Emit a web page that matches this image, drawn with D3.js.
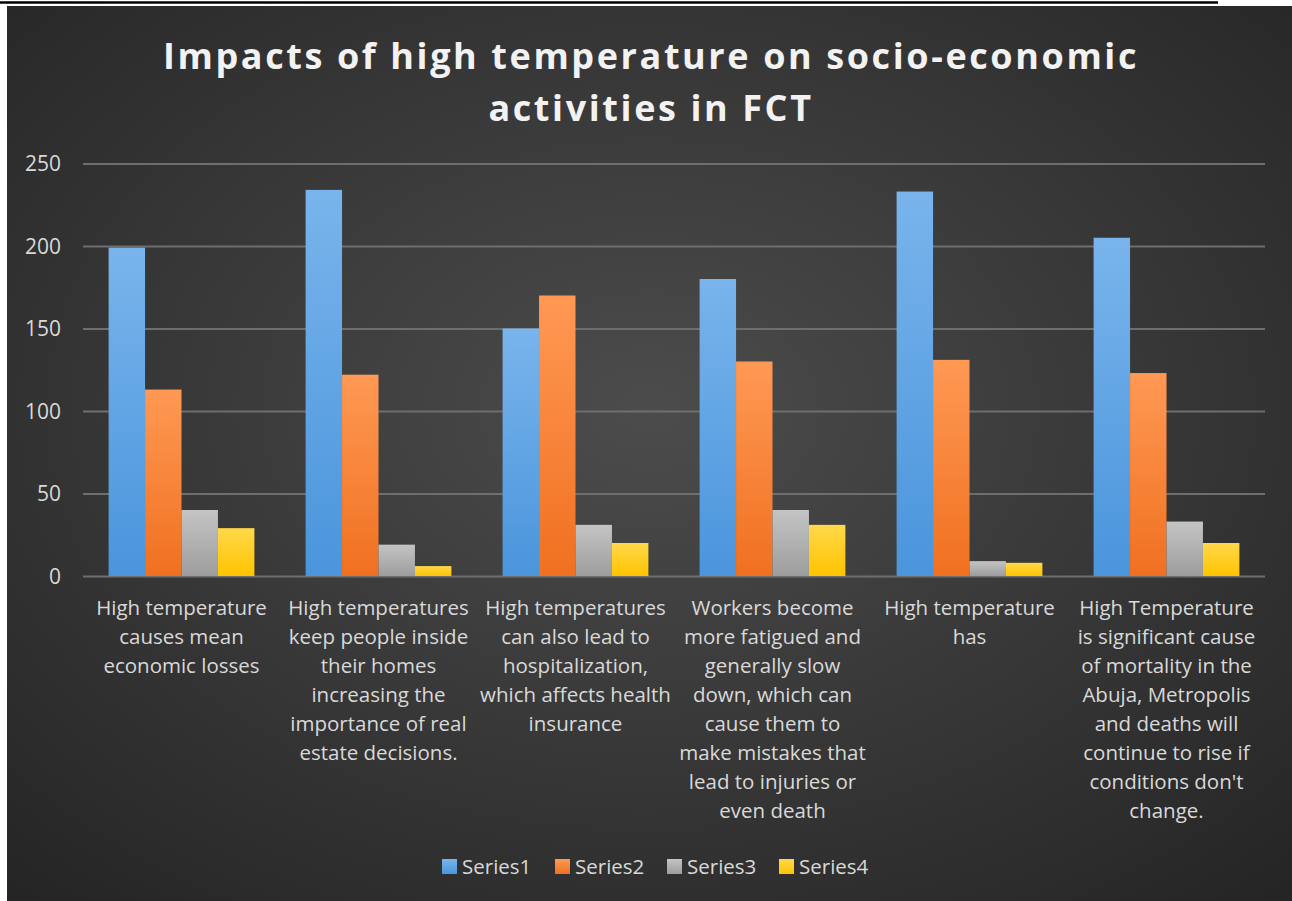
<!DOCTYPE html>
<html>
<head>
<meta charset="utf-8">
<script src="https://cdn.jsdelivr.net/npm/d3@7"></script>
<style>
  body { margin: 0; background: #fff; }
  svg { display: block; }
  text { font-family: "Open Sans", sans-serif; }
</style>
</head>
<body>
<svg id="canvas"></svg>
<script>
const categories = [
    ['High temperature', 'causes mean', 'economic losses'],
    ['High temperatures', 'keep people inside', 'their homes', 'increasing the', 'importance of real', 'estate decisions.'],
    ['High temperatures', 'can also lead to', 'hospitalization,', 'which affects health', 'insurance'],
    ['Workers become', 'more fatigued and', 'generally slow', 'down, which can', 'cause them to', 'make mistakes that', 'lead to injuries or', 'even death'],
    ['High temperature', 'has'],
    ['High Temperature', 'is significant cause', 'of mortality in the', 'Abuja, Metropolis', 'and deaths will', 'continue to rise if', "conditions don't", 'change.']
];
const seriesNames = ['Series1', 'Series2', 'Series3', 'Series4'];
const series1 = [199, 234, 150, 180, 233, 205];
const series2 = [113, 122, 170, 130, 131, 123];
const series3 = [40, 19, 31, 40, 9, 33];
const series4 = [29, 6, 20, 31, 8, 20];
const yTicks = [0, 50, 100, 150, 200, 250];
const titleLines = ['Impacts of high temperature on socio-economic', 'activities in FCT'];

const width = 1292;
const height = 901;
const plot = {left: 83, right: 1265, top: 163.5, bottom: 576};

const svg = d3.select('#canvas').attr('width', width).attr('height', height);
const defs = svg.append('defs');

// background gradient like the excel dark style
const bg = defs.append('radialGradient').attr('id', 'bg')
    .attr('cx', '50%').attr('cy', '45%').attr('r', '75%');
bg.append('stop').attr('offset', '0%').attr('stop-color', '#4c4c4c');
bg.append('stop').attr('offset', '100%').attr('stop-color', '#242424');

const colors = [['#79b4ec', '#4a95dc'], ['#ff9954', '#f07020'], ['#c4c4c4', '#9d9d9d'], ['#ffd84a', '#ffc400']];
colors.forEach((c, i) => {
    const g = defs.append('linearGradient').attr('id', 'grad' + i)
        .attr('x1', 0).attr('y1', 0).attr('x2', 0).attr('y2', 1);
    g.append('stop').attr('offset', '0%').attr('stop-color', c[0]);
    g.append('stop').attr('offset', '100%').attr('stop-color', c[1]);
});

// page leftovers above the chart
svg.append('line').attr('x1', 0).attr('x2', 1218).attr('y1', 2.5).attr('y2', 2.5)
    .attr('stroke', '#000').attr('stroke-width', 2.5);
svg.append('rect').attr('x', 7).attr('y', 6).attr('width', width - 7).attr('height', height - 6)
    .attr('fill', 'url(#bg)');

svg.append('text')
    .attr('x', 651).attr('y', 69)
    .attr('text-anchor', 'middle')
    .attr('fill', '#f2f2f2')
    .style('font-size', '36px').style('font-weight', 'bold').style('letter-spacing', '2.6px')
    .selectAll('tspan').data(titleLines).enter().append('tspan')
    .attr('x', 651).attr('dy', (d, i) => i === 0 ? 0 : 52)
    .text(d => d);

const data = categories.map((c, i) => ({
    idx: i,
    values: [series1[i], series2[i], series3[i], series4[i]]
}));

const xScale = d3.scaleBand()
    .domain(d3.range(categories.length))
    .range([plot.left, plot.right])
    .paddingInner(0.26).paddingOuter(0.13);
const xInner = d3.scaleBand()
    .domain(d3.range(seriesNames.length))
    .range([0, xScale.bandwidth()]);
const yScale = d3.scaleLinear().domain([0, 250]).range([plot.bottom, plot.top]);

const yAxis = d3.axisLeft(yScale).tickValues(yTicks)
    .tickSize(-(plot.right - plot.left)).tickPadding(22);
const gy = svg.append('g').attr('transform', 'translate(' + plot.left + ',0)').call(yAxis);
gy.select('.domain').remove();
gy.selectAll('.tick line').attr('stroke', '#6e6e6e').attr('stroke-width', 2);
gy.selectAll('.tick text').attr('fill', '#d9d9d9').style('font-size', '21px')
    .style('font-family', '"Open Sans", sans-serif').attr('dy', '0.35em');

const groups = svg.selectAll('.grp').data(data).enter().append('g')
    .attr('class', 'grp')
    .attr('transform', d => 'translate(' + xScale(d.idx) + ',0)');
groups.selectAll('rect').data(d => d.values).enter().append('rect')
    .attr('x', (v, j) => xInner(j))
    .attr('width', xInner.bandwidth())
    .attr('y', v => yScale(v))
    .attr('height', v => plot.bottom - yScale(v))
    .attr('fill', (v, j) => 'url(#grad' + j + ')');

// category labels
const labels = svg.append('g');
categories.forEach((lines, i) => {
    labels.append('text')
        .attr('text-anchor', 'middle')
        .attr('fill', '#d9d9d9')
        .style('font-size', '20.5px')
        .selectAll('tspan').data(lines).enter().append('tspan')
        .attr('x', xScale(i) + xScale.bandwidth() / 2)
        .attr('y', (d, k) => 615 + k * 29)
        .text(d => d);
});

// legend
const legendX = [442, 555, 667, 779];
const legend = svg.append('g');
seriesNames.forEach((s, i) => {
    legend.append('rect').attr('x', legendX[i]).attr('y', 859).attr('width', 15).attr('height', 15)
        .attr('fill', 'url(#grad' + i + ')');
    legend.append('text').attr('x', legendX[i] + 20).attr('y', 874)
        .attr('fill', '#d9d9d9').style('font-size', '20.5px').text(s);
});
</script>
</body>
</html>
